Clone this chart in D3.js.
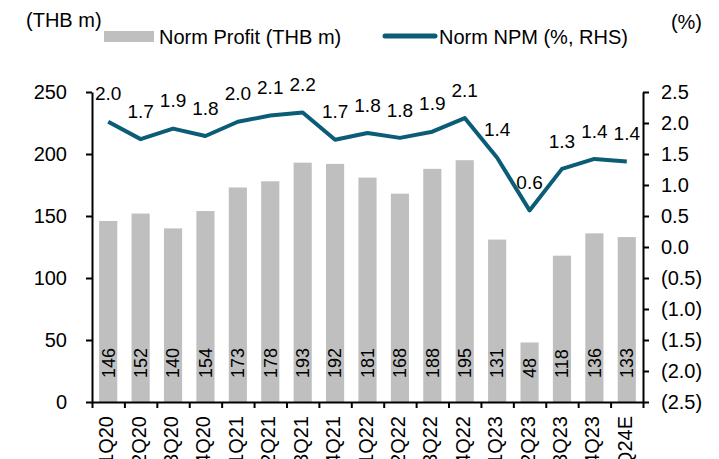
<!DOCTYPE html>
<html>
<head>
<meta charset="utf-8">
<script src="https://cdn.jsdelivr.net/npm/d3@7"></script>
<style>
  html, body { margin: 0; padding: 0; background: #fff; }
  svg { display: block; font-family: "Liberation Sans", Arial, sans-serif; }
</style>
</head>
<body>
<svg id="chart"></svg>
<script>
const quarters = ['1Q20', '2Q20', '3Q20', '4Q20', '1Q21', '2Q21', '3Q21', '4Q21',
  '1Q22', '2Q22', '3Q22', '4Q22', '1Q23', '2Q23', '3Q23', '4Q23', '1Q24E'];
const normProfit = [146, 152, 140, 154, 173, 178, 193, 192, 181, 168, 188, 195, 131, 48, 118, 136, 133];
const normNpm = [2.02, 1.74, 1.91, 1.79, 2.02, 2.12, 2.17, 1.73, 1.84, 1.76, 1.86, 2.08, 1.44, 0.59, 1.26, 1.42, 1.38];
const leftTicks = [0, 50, 100, 150, 200, 250];
const rightTicks = [-2.5, -2.0, -1.5, -1.0, -0.5, 0, 0.5, 1.0, 1.5, 2.0, 2.5];

const width = 719;
const height = 459;
const margin = {top: 92, right: 76, bottom: 57, left: 92};
const barColor = '#bfbfbf';
const lineColor = '#0b5d77';

const svg = d3.select('#chart').attr('width', width).attr('height', height);

const x = d3.scaleBand()
  .domain(quarters)
  .range([margin.left, width - margin.right])
  .paddingInner(0.44)
  .paddingOuter(0.22);

// boundaries between categories, for the tick marks
const xEdge = d3.scaleLinear()
  .domain([0, quarters.length])
  .range([margin.left, width - margin.right]);

const yLeft = d3.scaleLinear().domain([0, 250]).range([height - margin.bottom, margin.top]);
const yRight = d3.scaleLinear().domain([-2.5, 2.5]).range([height - margin.bottom, margin.top]);

const cx = q => x(q) + x.bandwidth() / 2;
const fmtRight = d => d < 0 ? `(${d3.format('.1f')(-d)})` : d3.format('.1f')(d);

// bars
svg.append('g')
  .selectAll('rect')
  .data(normProfit)
  .join('rect')
  .attr('x', (d, i) => x(quarters[i]))
  .attr('y', d => yLeft(d))
  .attr('width', x.bandwidth())
  .attr('height', d => yLeft(0) - yLeft(d))
  .attr('fill', barColor);

// bar value labels, rotated
svg.append('g')
  .attr('font-size', 18)
  .attr('fill', '#000')
  .selectAll('text')
  .data(normProfit)
  .join('text')
  .attr('transform', (d, i) => `translate(${cx(quarters[i])},${yLeft(0) - 24}) rotate(-90)`)
  .attr('dy', '0.35em')
  .text(d => d);

// axes
svg.append('g')
  .attr('transform', `translate(${margin.left},0)`)
  .call(d3.axisLeft(yLeft).tickValues(leftTicks).tickSize(6).tickPadding(19).tickSizeOuter(0))
  .call(g => g.selectAll('text').attr('font-size', 20).attr('fill', '#000'))
  .call(g => g.selectAll('line, path').attr('stroke', '#000').attr('stroke-width', 2));

svg.append('g')
  .attr('transform', `translate(${width - margin.right},0)`)
  .call(d3.axisRight(yRight).tickValues(rightTicks).tickFormat(fmtRight).tickSize(6).tickPadding(12).tickSizeOuter(0))
  .call(g => g.selectAll('text').attr('font-size', 20).attr('fill', '#000'))
  .call(g => g.selectAll('line, path').attr('stroke', '#000').attr('stroke-width', 2));

svg.append('g')
  .attr('transform', `translate(0,${height - margin.bottom})`)
  .call(d3.axisBottom(xEdge).tickValues(d3.range(quarters.length + 1)).tickFormat('').tickSize(6).tickSizeOuter(0))
  .call(g => g.selectAll('line, path').attr('stroke', '#000').attr('stroke-width', 2));

// category labels, rotated
svg.append('g')
  .attr('font-size', 20)
  .attr('fill', '#000')
  .selectAll('text')
  .data(quarters)
  .join('text')
  .attr('transform', q => `translate(${cx(q) - 2},${yLeft(0) + 14}) rotate(-90)`)
  .attr('text-anchor', 'end')
  .attr('dy', '0.35em')
  .text(q => q);

// margin line
const line = d3.line()
  .x((d, i) => cx(quarters[i]))
  .y(d => yRight(d));

svg.append('path')
  .datum(normNpm)
  .attr('fill', 'none')
  .attr('stroke', lineColor)
  .attr('stroke-width', 4)
  .attr('stroke-linejoin', 'round')
  .attr('d', line);

svg.append('g')
  .attr('font-size', 19)
  .attr('fill', '#000')
  .attr('text-anchor', 'middle')
  .selectAll('text')
  .data(normNpm)
  .join('text')
  .attr('x', (d, i) => cx(quarters[i]))
  .attr('y', d => yRight(d) - 28)
  .attr('dy', '0.35em')
  .text(d => d3.format('.1f')(d));

// unit captions
svg.append('text').attr('x', 26).attr('y', 20).attr('dy', '0.35em')
  .attr('font-size', 20).text('(THB m)');
svg.append('text').attr('x', 702).attr('y', 22).attr('dy', '0.35em')
  .attr('text-anchor', 'end').attr('font-size', 20).text('(%)');

// legend
const legend = svg.append('g').attr('font-size', 20);
legend.append('rect').attr('x', 104).attr('y', 31).attr('width', 50).attr('height', 11).attr('fill', barColor);
legend.append('text').attr('x', 159).attr('y', 37).attr('dy', '0.35em').text('Norm Profit (THB m)');
legend.append('line').attr('x1', 385).attr('x2', 435).attr('y1', 36).attr('y2', 36)
  .attr('stroke', lineColor).attr('stroke-width', 5).attr('stroke-linecap', 'round');
legend.append('text').attr('x', 439).attr('y', 37).attr('dy', '0.35em').text('Norm NPM (%, RHS)');
</script>
</body>
</html>
